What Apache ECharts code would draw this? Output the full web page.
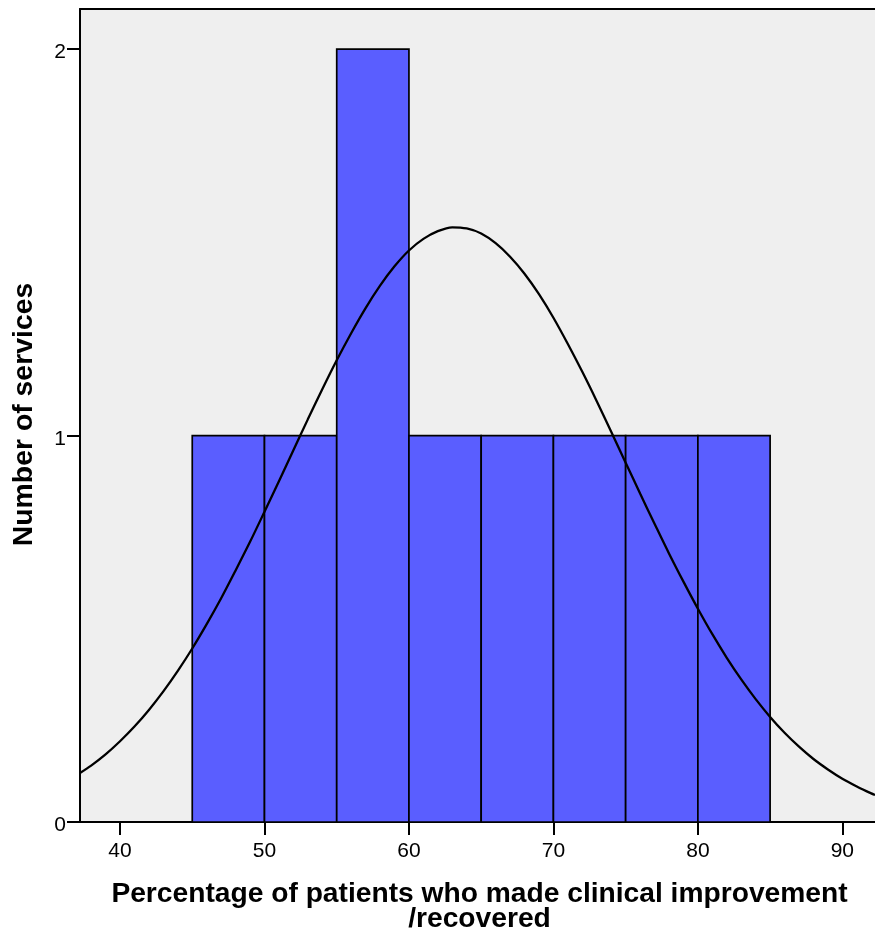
<!DOCTYPE html>
<html>
<head>
<meta charset="utf-8">
<title>Histogram</title>
<script src="https://cdn.jsdelivr.net/npm/echarts@6/dist/echarts.min.js"></script>
<style>
  html, body { margin: 0; padding: 0; background: #ffffff; }
  #chart { width: 875px; height: 940px; }
</style>
</head>
<body>
<div id="chart"></div>
<script>
// Histogram bins: lower edge of each 5-point bin and number of services in it
const binStarts = [45, 50, 55, 60, 65, 70, 75, 80];
const binCounts = [1, 1, 2, 1, 1, 1, 1, 1];
const binWidth = 5;

// Fitted normal curve, sampled along the x range
const curveX = [37.23, 38, 39, 40, 41, 42, 43, 44, 45, 46, 47, 48, 49, 50,
  51, 52, 53, 54, 55, 56, 57, 58, 59, 60, 61, 62, 63, 64, 65, 66, 67, 68, 69, 70,
  71, 72, 73, 74, 75, 76, 77, 78, 79, 80, 81, 82, 83, 84, 85, 86, 87, 88, 89, 90,
  91, 92, 92.26];
const curveY = [0.127, 0.146, 0.175, 0.209, 0.247, 0.290, 0.338, 0.391, 0.449, 0.512, 0.579, 0.651, 0.725, 0.803,
  0.882, 0.962, 1.042, 1.120, 1.195, 1.265, 1.330, 1.388, 1.438, 1.479, 1.509, 1.529, 1.539, 1.536, 1.523, 1.498, 1.463, 1.419, 1.366, 1.305,
  1.237, 1.165, 1.089, 1.010, 0.930, 0.850, 0.772, 0.695, 0.622, 0.552, 0.486, 0.425, 0.369, 0.318, 0.272, 0.231, 0.195, 0.163, 0.136, 0.112,
  0.092, 0.074, 0.070];

// Axis tick labels
const xTicks = [40, 50, 60, 70, 80, 90];
const yTicks = [0, 1, 2];

const xRange = [37.23, 92.26];
const yRange = [0, 2.104];

const FONT = "'Liberation Sans', Arial, Helvetica, sans-serif";

const barData = binStarts.map((s, i) => [s, s + binWidth, binCounts[i]]);
const curveData = curveX.map((x, i) => [x, curveY[i]]);

const chart = echarts.init(document.getElementById('chart'), null, { renderer: 'canvas' });

chart.setOption({
  animation: false,
  backgroundColor: '#ffffff',
  grid: {
    left: 80, top: 9, right: 0, bottom: 118,
    show: true, backgroundColor: '#efefef', borderWidth: 0
  },
  xAxis: [{
    type: 'value',
    min: xRange[0], max: xRange[1],
    axisLine: { show: true, onZero: false, lineStyle: { color: '#000', width: 2 } },
    axisTick: { show: true, length: 13, customValues: xTicks, lineStyle: { color: '#000', width: 2 } },
    axisLabel: { customValues: xTicks, margin: 19, color: '#000', fontSize: 21, fontFamily: FONT },
    splitLine: { show: false }
  }, {
    type: 'value',
    position: 'top',
    min: xRange[0], max: xRange[1],
    axisLine: { show: true, onZero: false, lineStyle: { color: '#000', width: 2 } },
    axisTick: { show: false },
    axisLabel: { show: false },
    splitLine: { show: false }
  }],
  yAxis: {
    type: 'value',
    min: yRange[0], max: yRange[1],
    axisLine: { show: true, onZero: false, lineStyle: { color: '#000', width: 2 } },
    axisTick: { show: true, length: 13, customValues: yTicks, lineStyle: { color: '#000', width: 2 } },
    axisLabel: {
      customValues: yTicks, margin: 14, verticalAlign: 'top', lineHeight: 7,
      color: '#000', fontSize: 21, fontFamily: FONT
    },
    splitLine: { show: false }
  },
  series: [{
    type: 'custom',
    xAxisIndex: 0,
    data: barData,
    encode: { x: [0, 1], y: 2 },
    renderItem: function (params, api) {
      const p0 = api.coord([api.value(0), api.value(2)]);
      const p1 = api.coord([api.value(1), 0]);
      return {
        type: 'rect',
        shape: { x: p0[0], y: p0[1], width: p1[0] - p0[0], height: p1[1] - p0[1] },
        style: { fill: '#5a5eff', stroke: '#000', lineWidth: 1.7 }
      };
    },
    z: 2
  }, {
    type: 'line',
    xAxisIndex: 0,
    data: curveData,
    smooth: 0.3,
    showSymbol: false,
    clip: true,
    lineStyle: { color: '#000', width: 2.3 },
    z: 3
  }],
  graphic: [{
    type: 'text',
    x: 24.6, y: 414.5,
    rotation: Math.PI / 2,
    style: {
      text: 'Number of services',
      align: 'center', verticalAlign: 'middle',
      font: 'bold 28.4px ' + FONT, fill: '#000'
    }
  }, {
    type: 'text',
    x: 479.5, y: 894,
    style: {
      text: 'Percentage of patients who made clinical improvement',
      align: 'center', verticalAlign: 'middle',
      font: 'bold 28.2px ' + FONT, fill: '#000'
    }
  }, {
    type: 'text',
    x: 479.5, y: 919,
    style: {
      text: '/recovered',
      align: 'center', verticalAlign: 'middle',
      font: 'bold 28.2px ' + FONT, fill: '#000'
    }
  }]
});
</script>
</body>
</html>
